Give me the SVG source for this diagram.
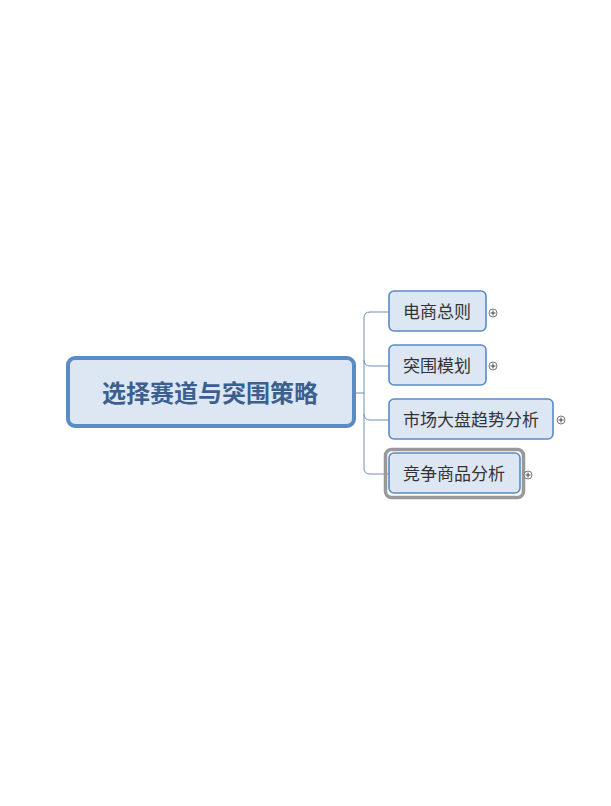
<svg xmlns="http://www.w3.org/2000/svg" width="611" height="806" viewBox="0 0 611 806">
<style>
.main{fill:#dde6f3;stroke:#5b8bc5;stroke-width:4}
.sub{fill:#dde6f3;stroke:#5b8bc5;stroke-width:1.6}
.sel{fill:none;stroke:#999999;stroke-width:3.5}
.mt{font-family:"Noto Sans CJK SC",sans-serif;font-size:24px;font-weight:bold;fill:#3b5f8f}
.st{font-family:"Noto Sans CJK SC",sans-serif;font-size:17px;fill:#333333}
.conn{fill:none;stroke:#6d8fb5;stroke-width:1}
.pc{fill:#ffffff;stroke:#555555;stroke-width:0.8}
.pl{stroke:#333333;stroke-width:0.9}
</style>
<rect width="611" height="806" fill="#ffffff"/>
<g id="connectors">
<path class="conn" d="M354 393 H364"/>
<path class="conn" d="M389 312 H370 Q364 312 364 318 V468 Q364 474 370 474 H389"/>
<path class="conn" d="M364 360 Q364 366 370 366 H389"/>
<path class="conn" d="M364 414 Q364 420 370 420 H389"/>
</g>
<g id="central">
<rect class="main" x="68" y="358" width="286" height="68" rx="7"/>
<text class="mt" x="210" y="402" text-anchor="middle">选择赛道与突围策略</text>
</g>
<g id="n1">
<rect class="sub" x="389" y="291" width="97" height="40" rx="5"/>
<text class="st" x="403" y="318">电商总则</text>
<circle class="pc" cx="493" cy="313" r="4"/><path class="pl" d="M490.5 313 H495.5 M493 310.5 V315.5"/>
</g>
<g id="n2">
<rect class="sub" x="389" y="345" width="97" height="40" rx="5"/>
<text class="st" x="403" y="372">突围模划</text>
<circle class="pc" cx="493" cy="366" r="4"/><path class="pl" d="M490.5 366 H495.5 M493 363.5 V368.5"/>
</g>
<g id="n3">
<rect class="sub" x="389" y="399" width="164" height="40" rx="5"/>
<text class="st" x="403" y="426">市场大盘趋势分析</text>
<circle class="pc" cx="561" cy="420" r="4"/><path class="pl" d="M558.5 420 H563.5 M561 417.5 V422.5"/>
</g>
<g id="n4">
<rect class="sel" x="385.5" y="449.5" width="138" height="48" rx="6"/>
<rect class="sub" x="389" y="453" width="131" height="40" rx="5"/>
<text class="st" x="403" y="480">竞争商品分析</text>
<circle class="pc" cx="528" cy="475" r="4"/><path class="pl" d="M525.5 475 H530.5 M528 472.5 V477.5"/>
</g>
</svg>
